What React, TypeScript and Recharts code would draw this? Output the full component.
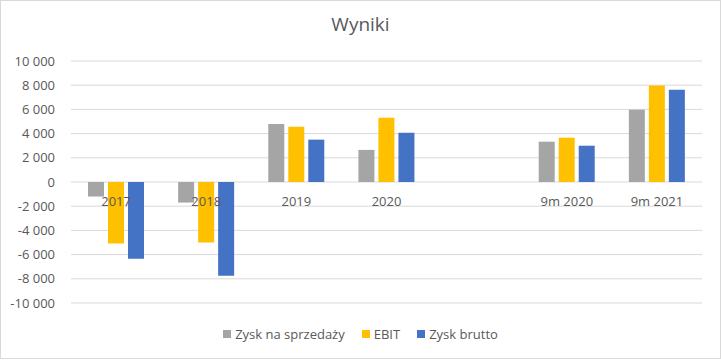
/**
 * WynikiChart – grouped bar chart of yearly and 9-month results.
 */

import React from 'react';
import { BarChart, Bar, XAxis, YAxis, CartesianGrid } from 'recharts';

const categories = ['2017', '2018', '2019', '2020', '', '9m 2020', '9m 2021'];
const zyskNaSprzedazy = [-1200, -1700, 4800, 2650, null, 3330, 5980];
const ebit = [-5080, -4990, 4570, 5310, null, 3660, 7980];
const zyskBrutto = [-6340, -7740, 3500, 4070, null, 3000, 7630];
const yTicks = [-10000, -8000, -6000, -4000, -2000, 0, 2000, 4000, 6000, 8000, 10000];

const series = [
  { key: 'sprzedaz', name: 'Zysk na sprzedaży', color: '#A5A5A5', values: zyskNaSprzedazy },
  { key: 'ebit', name: 'EBIT', color: '#FFC000', values: ebit },
  { key: 'brutto', name: 'Zysk brutto', color: '#4472C4', values: zyskBrutto },
];

const data = categories.map((name, i) => {
  const row: Record<string, string | number | null> = { name };
  series.forEach((s) => {
    row[s.key] = s.values[i];
  });
  return row;
});

const W = 721;
const H = 359;
const PLOT_TOP = 61;
const PLOT_BOTTOM = 303;
const X_AXIS_H = 30;
const FONT = '"Open Sans", "Noto Sans", sans-serif';
const TEXT = '#595959';

const formatNum = (v: number) => {
  const s = Math.abs(v).toString().replace(/\B(?=(\d{3})+(?!\d))/g, ' ');
  return v < 0 ? `-${s}` : s;
};

// category labels sit just under the zero line, like Excel's "next to axis"
const zeroY = (PLOT_TOP + PLOT_BOTTOM) / 2;
const CategoryTick = (props: any) => {
  const { x, payload } = props;
  if (!payload.value) return null;
  return (
    <text x={x} y={zeroY + 24} textAnchor="middle" fontSize={13} fill={TEXT} fontFamily={FONT}>
      {payload.value}
    </text>
  );
};

export default function App() {
  return (
    <div
      style={{
        position: 'absolute',
        left: 0,
        top: 0,
        width: W,
        height: H,
        boxSizing: 'border-box',
        border: '1px solid #D9D9D9',
        background: '#fff',
        fontFamily: FONT,
      }}
    >
      <div
        style={{
          position: 'absolute',
          top: 10,
          width: '100%',
          textAlign: 'center',
          fontSize: 19,
          color: TEXT,
        }}
      >
        Wyniki
      </div>
      <div style={{ position: 'absolute', left: -1, top: -1 }}>
        <BarChart
          width={W}
          height={H}
          data={data}
          barSize={16}
          barGap={4}
          margin={{ top: PLOT_TOP, right: 19, left: 0, bottom: H - PLOT_BOTTOM - X_AXIS_H }}
        >
          <CartesianGrid vertical={false} stroke="#D9D9D9" />
          <XAxis
            dataKey="name"
            axisLine={false}
            tickLine={false}
            interval={0}
            height={X_AXIS_H}
            tick={<CategoryTick />}
          />
          <YAxis
            domain={[-10000, 10000]}
            ticks={yTicks}
            tickFormatter={formatNum}
            axisLine={false}
            tickLine={false}
            width={71}
            tickMargin={10}
            tick={{ fontSize: 13, fill: TEXT, fontFamily: FONT }}
          />
          {series.map((s) => (
            <Bar key={s.key} dataKey={s.key} name={s.name} fill={s.color} isAnimationActive={false} />
          ))}
        </BarChart>
      </div>
      <div
        style={{
          position: 'absolute',
          top: 324,
          width: '100%',
          display: 'flex',
          justifyContent: 'center',
          fontSize: 13,
          color: TEXT,
          gap: 17,
        }}
      >
        {series.map((s) => (
          <div key={s.key} style={{ display: 'flex', alignItems: 'center' }}>
            <span style={{ width: 8, height: 8, background: s.color, marginRight: 4 }} />
            <span>{s.name}</span>
          </div>
        ))}
      </div>
    </div>
  );
}
